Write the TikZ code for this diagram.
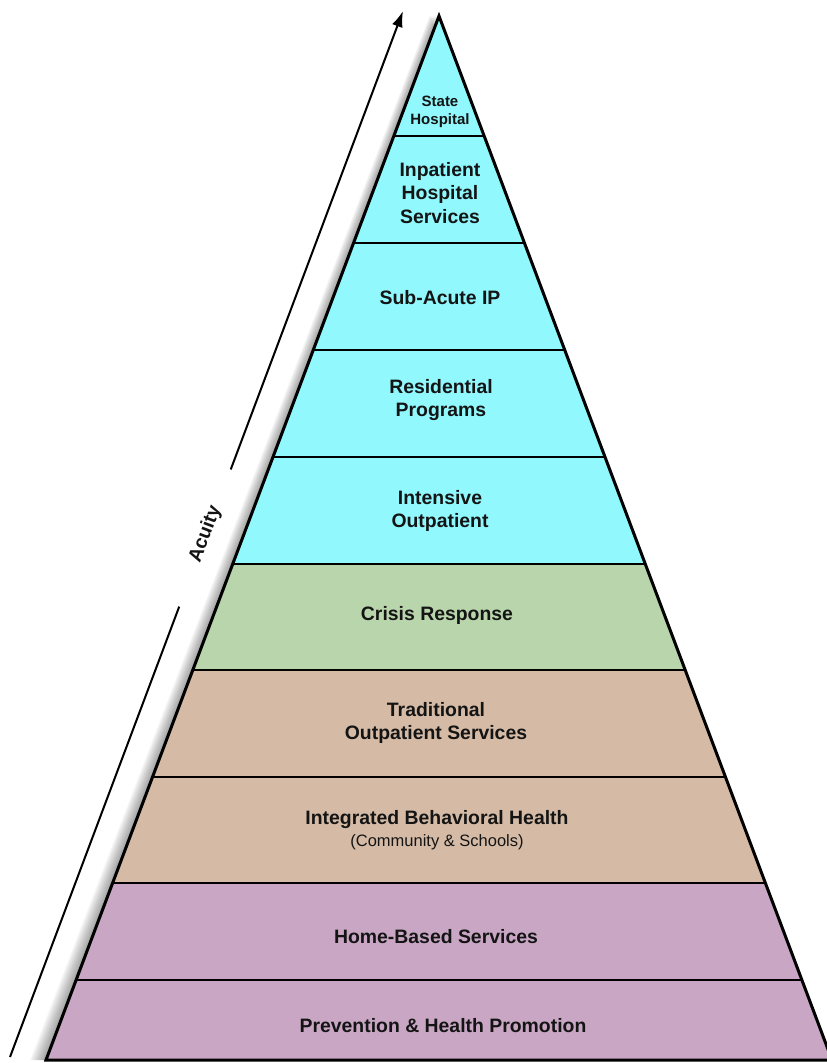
\documentclass[tikz,border=0pt]{standalone}
\usepackage{fontspec}
\setmainfont{Liberation Sans}
\usetikzlibrary{calc,arrows.meta}
\definecolor{cyanL}{RGB}{145,248,253}
\definecolor{greenL}{RGB}{185,213,171}
\definecolor{tanL}{RGB}{213,187,166}
\definecolor{purpL}{RGB}{201,167,196}
\definecolor{txt}{RGB}{20,20,20}
\begin{document}
\begin{tikzpicture}[x=1pt,y=-1pt,
  lbl/.style={font=\fontsize{19.4}{23.5}\selectfont\bfseries, text=txt, align=center, inner sep=0pt},
  sm/.style={font=\fontsize{15}{17.5}\selectfont\bfseries, text=txt, align=center, inner sep=0pt},
  sep/.style={line width=2pt},
  outline/.style={line width=3pt, line join=miter}]
\useasboundingbox (0,0) rectangle (827,1063);
\coordinate (A) at (439,16);
\coordinate (BL) at (46,1060);
\coordinate (BR) at (832,1060);
% soft shadow
\foreach \s in {1,...,16}{
  \fill[black,opacity=0.028] (439-\s*0.6,16) -- (46-\s,1060) -- (832,1060) -- cycle;
}
% layers
\begin{scope}
  \clip (A) -- (BL) -- (BR) -- cycle;
  \fill[cyanL] (0,0) rectangle (840,564);
  \fill[greenL] (0,564) rectangle (840,670);
  \fill[tanL] (0,670) rectangle (840,883);
  \fill[purpL] (0,883) rectangle (840,1070);
  \foreach \y in {136,243,350,457,564,670,777,883,980}
    \draw[sep] (0,\y) -- (840,\y);
\end{scope}
\draw[outline] (A) -- (BL) -- (BR) -- cycle;
% labels
\node[sm] (l1) at (440,112) {State\\Hospital};
\node[lbl] (l2) at (440,193) {Inpatient\\Hospital\\Services};
\node[lbl] (l3) at (440,298) {Sub-Acute IP};
\node[lbl] (l4) at (441,400) {Residential\\Programs};
\node[lbl] (l5) at (440,511) {Intensive\\Outpatient};
\node[lbl] (l6) at (437,615) {Crisis Response};
\node[lbl] (l7) at (436,723) {Traditional\\Outpatient Services};
\node[lbl] (l8) at (437,820) {Integrated Behavioral Health};
\node[font=\fontsize{16.5}{19}\selectfont, text=txt, inner sep=0pt] (l8b) at (437,842) {(Community \& Schools)};
\node[lbl] (l9) at (436,937) {Home-Based Services};
\node[lbl] (l10) at (443,1026) {Prevention \& Health Promotion};
% acuity arrow
\coordinate (a0) at (10,1057);
\coordinate (a1) at (403,11);
\coordinate (m0) at ($(a0)!0.4306!(a1)$);
\coordinate (m1) at ($(a0)!0.5617!(a1)$);
\draw[line width=2pt] (a0) -- (m0);
\draw[line width=2pt, -{Latex[length=16pt,width=11pt]}] (m1) -- (a1);
\node[lbl, rotate=69.4] (ac) at ($(a0)!0.5!(a1)+(-1,0)$) {Acuity};
\end{tikzpicture}
\end{document}
